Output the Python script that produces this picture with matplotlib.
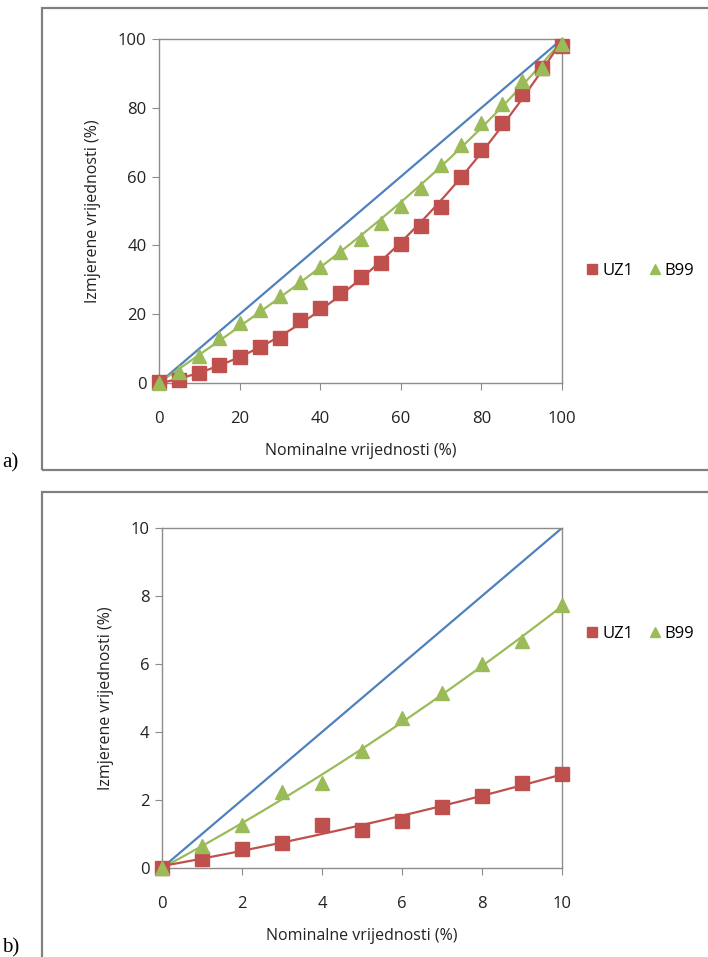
import numpy as np
import matplotlib.pyplot as plt
from matplotlib.patches import Rectangle

# panel a) data, nominal 0..100 step 5
nom_a = [0, 5, 10, 15, 20, 25, 30, 35, 40, 45, 50, 55, 60, 65, 70, 75, 80, 85, 90, 95, 100]
uz1_a = [0.3, 0.8, 2.8, 5.1, 7.5, 10.4, 13.2, 18.2, 21.7, 26.1, 30.7, 34.9, 40.5, 45.7, 51.3,
         59.8, 67.7, 75.5, 84.0, 91.5, 97.9]
b99_a = [0.0, 3.2, 7.8, 13.2, 17.3, 21.2, 25.2, 29.5, 33.8, 38.0, 41.8, 46.6, 51.4, 56.6, 63.4,
         69.2, 75.5, 81.1, 87.8, 91.5, 98.7]

# panel b) data, nominal 0..10 step 1
nom_b = [0, 1, 2, 3, 4, 5, 6, 7, 8, 9, 10]
uz1_b = [0.0, 0.26, 0.56, 0.74, 1.27, 1.13, 1.38, 1.8, 2.12, 2.51, 2.75]
b99_b = [0.0, 0.66, 1.26, 2.24, 2.5, 3.45, 4.4, 5.15, 6.0, 6.67, 7.74]

BLUE = "#4F81BD"
RED = "#C0504D"
GREEN = "#9BBB59"
GRID = "#8C8C8C"

plt.rcParams['font.family'] = ['Open Sans', 'DejaVu Sans']

fig = plt.figure(figsize=(7.08, 9.57), dpi=100)


def panel(rect, x, uz1, b99, xmax, step, deg, leg_y):
    ax = fig.add_axes(rect)
    ax.plot([0, xmax], [0, xmax], color=BLUE, lw=1.6)
    xs = np.linspace(0, xmax, 200)
    for y, col in [(b99, GREEN), (uz1, RED)]:
        p = np.polyfit(x, y, deg)
        ax.plot(xs, np.polyval(p, xs), color=col, lw=1.6)
    ax.plot(x, uz1, 's', color=RED, ms=9.5, ls='none', clip_on=False, zorder=5, label='UZ1')
    ax.plot(x, b99, '^', color=GREEN, ms=9.5, ls='none', clip_on=False, zorder=5, label='B99')
    ax.set_xlim(0, xmax)
    ax.set_ylim(0, xmax)
    ax.set_xticks(np.arange(0, xmax + 1, step))
    ax.set_yticks(np.arange(0, xmax + 1, step))
    for s in ax.spines.values():
        s.set_color(GRID)
        s.set_linewidth(1.0)
    ax.tick_params(axis='x', length=5, color=GRID, pad=15, labelsize=12, labelcolor='#222222')
    ax.tick_params(axis='y', length=5, color=GRID, pad=4, labelsize=12, labelcolor='#222222')
    ax.set_xlabel('Nominalne vrijednosti (%)', fontsize=11.5, labelpad=12, color='#222222')
    ax.set_ylabel('Izmjerene vrijednosti (%)', fontsize=11.5, labelpad=12, color='#222222')
    fig.legend(handles=ax.lines[3:], loc='center', bbox_to_anchor=(0.905, leg_y), ncol=2,
               frameon=False, handlelength=0.6, handletextpad=0.3, columnspacing=1.0,
               markerscale=0.8, fontsize=12)
    return ax


panel([0.2246, 0.5998, 0.5692, 0.3594], nom_a, uz1_a, b99_a, 100, 20, 3, 1 - 271 / 957)
panel([0.2288, 0.0930, 0.5650, 0.3553], nom_b, uz1_b, b99_b, 10, 2, 2, 1 - 634 / 957)

# outer frames around both panels
fig.add_artist(Rectangle((42 / 708, 1 - 470 / 957), 0.98, (470 - 8) / 957, transform=fig.transFigure,
                         fill=False, edgecolor='#808080', lw=1.6))
fig.add_artist(Rectangle((42 / 708, -0.05), 0.98, 0.05 + 1 - 492 / 957, transform=fig.transFigure,
                         fill=False, edgecolor='#808080', lw=1.6))

fig.text(2 / 708, 1 - 463 / 957, 'a)', family='Liberation Serif', fontsize=15, va='center')
fig.text(2 / 708, 1 - 948 / 957, 'b)', family='Liberation Serif', fontsize=15, va='center')

fig.savefig('out.png', dpi=100)
